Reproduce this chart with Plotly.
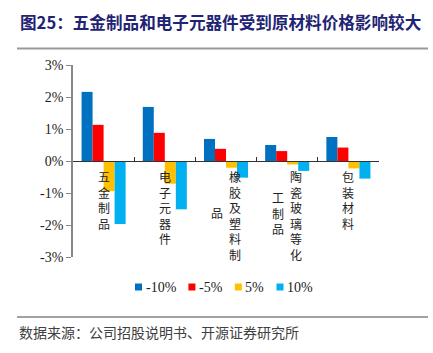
import plotly.graph_objects as go

categories = ["五金制品", "电子元器件", "橡胶及塑料制品", "陶瓷玻璃等化工制品", "包装材料"]
series_names = ["-10%", "-5%", "5%", "10%"]
v_m10 = [2.16, 1.69, 0.69, 0.50, 0.75]
v_m5 = [1.13, 0.88, 0.38, 0.31, 0.42]
v_p5 = [-0.94, -0.71, -0.21, -0.11, -0.23]
v_p10 = [-1.97, -1.51, -0.52, -0.31, -0.55]
series_values = [v_m10, v_m5, v_p5, v_p10]
colors = ["#0070C0", "#FF0000", "#FFC000", "#00B0F0"]
y_ticks = [-3, -2, -1, 0, 1, 2, 3]
y_ticklabels = ["-3%", "-2%", "-1%", "0%", "1%", "2%", "3%"]
title_text = "图25：五金制品和电子元器件受到原材料价格影响较大"
source_text = "数据来源：公司招股说明书、开源证券研究所"

W, H = 433, 353
L, R, T, B = 73, 54, 65, 96

fig = go.Figure()
xs = list(range(len(categories)))
for name, vals, c in zip(series_names, series_values, colors):
    fig.add_trace(go.Bar(x=xs, y=vals, name=name, marker_color=c,
                         marker_line_width=0, showlegend=False))

annotations = []
shapes = []
colw = 18
for i, cat in enumerate(categories):
    chunks = [cat[k:k + 6] for k in range(0, len(cat), 6)]
    n = len(chunks)
    for j, ch in enumerate(chunks):
        off = ((n - 1) / 2 - j) * colw
        ann = dict(x=i, xref="x", text="<br>".join(ch), showarrow=False,
                   xshift=off, font=dict(family="Noto Sans CJK SC", size=12, color="#222"),
                   align="center")
        if j == 0:
            ann.update(y=-0.16, yref="y", yanchor="top")
        else:
            ann.update(y=-1.62, yref="y", yanchor="middle")
        annotations.append(ann)

# hand-drawn legend (compact spacing like the reference)
leg_y = 287
px = 135.0
for name, c in zip(series_names, colors):
    shapes.append(dict(type="rect", xref="paper", yref="paper",
                       x0=px / W, x1=(px + 7) / W,
                       y0=1 - (leg_y + 3.5) / H, y1=1 - (leg_y - 3.5) / H,
                       fillcolor=c, line=dict(width=0)))
    annotations.append(dict(x=(px + 8.5) / W, y=1 - leg_y / H, xref="paper", yref="paper",
                            xanchor="left", yanchor="middle", showarrow=False, text=name,
                            font=dict(family="Liberation Serif", size=14, color="#222")))
    tw = sum(7.0 if ch.isdigit() else (11.7 if ch == "%" else 4.7) for ch in name)
    px += 7 + 2 + tw + 14

annotations.append(dict(x=18 / W, y=1 - 22 / H, xref="paper", yref="paper",
                        xanchor="left", yanchor="middle", showarrow=False,
                        text="<b>" + title_text + "</b>",
                        font=dict(family="Noto Sans CJK SC", size=16.6, color="#1F2474")))
annotations.append(dict(x=17 / W, y=1 - 332 / H, xref="paper", yref="paper",
                        xanchor="left", yanchor="middle", showarrow=False,
                        text=source_text,
                        font=dict(family="Noto Sans CJK SC", size=14, color="#404040")))

shapes += [
    dict(type="line", xref="paper", yref="paper", x0=17 / W, x1=428 / W,
         y0=1 - 48.5 / H, y1=1 - 48.5 / H, line=dict(color="#999", width=2)),
    dict(type="line", xref="paper", yref="paper", x0=17 / W, x1=428 / W,
         y0=1 - 317 / H, y1=1 - 317 / H, line=dict(color="#444", width=1)),
]

fig.update_layout(
    width=W, height=H,
    margin=dict(l=0, r=0, t=0, b=0, autoexpand=False),
    paper_bgcolor="white", plot_bgcolor="white",
    barmode="group", bargap=0.28, bargroupgap=0,
    showlegend=False,
    xaxis=dict(domain=[L / W, 1 - R / W], range=[-0.5, len(categories) - 0.5],
               anchor="free", position=1 - (T + 96) / H,
               showline=True, linecolor="#333", linewidth=1.2,
               tickvals=[k + 0.5 for k in range(len(categories))], ticktext=[""] * len(categories),
               ticks="inside", ticklen=4, tickcolor="#333", showgrid=False, zeroline=False),
    yaxis=dict(domain=[B / H, 1 - T / H], range=[-3, 3], tickvals=y_ticks, ticktext=y_ticklabels,
               showline=True, linecolor="#888", linewidth=1.5, ticks="outside", ticklen=5,
               tickcolor="#888", showgrid=False, zeroline=False,
               tickfont=dict(family="Liberation Serif", size=14, color="#222")),
    annotations=annotations,
    shapes=shapes,
)
fig.write_html("out.html")
